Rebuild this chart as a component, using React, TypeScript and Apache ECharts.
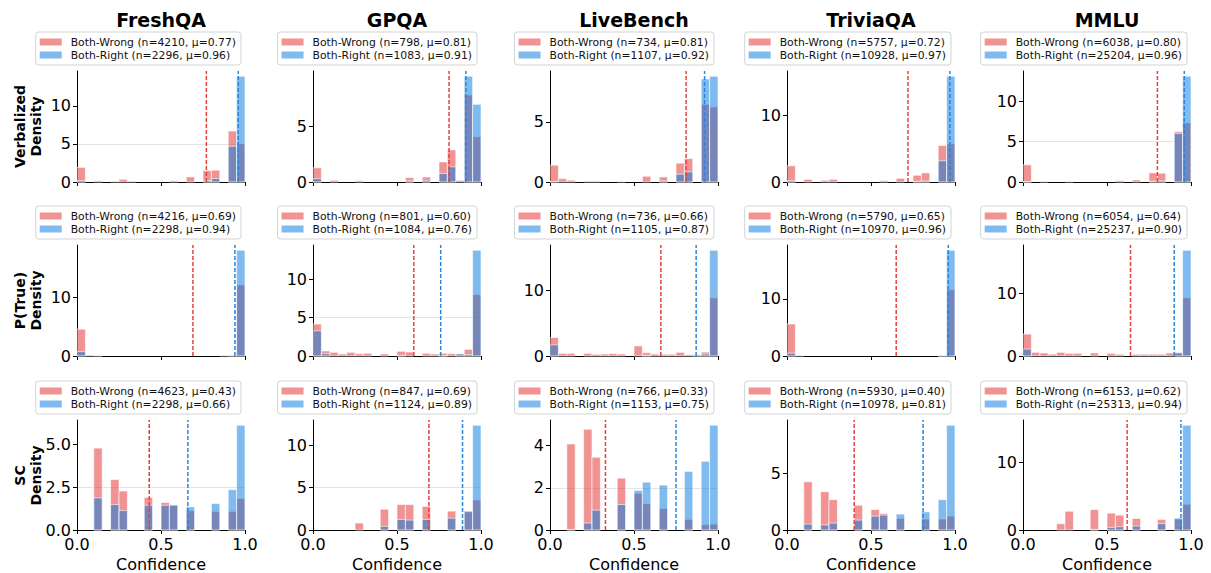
import React, { useEffect, useRef } from 'react';
import * as echarts from 'echarts';

const DATASETS = ['FreshQA', 'GPQA', 'LiveBench', 'TriviaQA', 'MMLU'];
const METHODS = ['Verbalized', 'P(True)', 'SC'];
const BIN_EDGES = [0, 0.05, 0.1, 0.15, 0.2, 0.25, 0.3, 0.35, 0.4, 0.45, 0.5, 0.55, 0.6, 0.65, 0.7, 0.75, 0.8, 0.85, 0.9, 0.95, 1.0];
const X_TICKS = [0, 0.5, 1.0];

// Verbalized densities (20 bins), per dataset
const VERB_WRONG = [
  [1.92, 0, 0.15, 0, 0.1, 0.36, 0.1, 0, 0, 0, 0, 0.15, 0, 0.67, 0, 1.5, 1.55, 0, 6.7, 5.0],
  [1.27, 0, 0.15, 0, 0, 0.12, 0, 0, 0, 0, 0, 0.4, 0, 0.45, 0, 1.8, 2.88, 0, 7.8, 4.06],
  [1.4, 0.28, 0.15, 0, 0, 0, 0, 0, 0.05, 0, 0, 0.48, 0, 0.42, 0, 1.57, 1.94, 0, 6.46, 6.24],
  [2.42, 0, 0.4, 0, 0.25, 0.4, 0, 0, 0, 0, 0, 0.2, 0, 0.55, 0, 1.0, 1.36, 0, 5.45, 5.7],
  [2.13, 0, 0.08, 0, 0, 0.08, 0, 0, 0, 0, 0, 0.17, 0, 0.25, 0, 1.13, 1.09, 0, 6.23, 7.32],
];
const VERB_RIGHT = [
  [0.2, 0, 0, 0, 0, 0, 0, 0, 0, 0, 0, 0, 0, 0, 0, 0.2, 0.45, 0, 4.7, 13.9],
  [0.3, 0, 0, 0, 0, 0, 0, 0, 0, 0, 0, 0.1, 0, 0.15, 0, 0.76, 1.36, 0.15, 9.48, 6.97],
  [0.05, 0, 0, 0, 0.08, 0.08, 0, 0, 0, 0, 0, 0, 0, 0.1, 0, 0.65, 0.84, 0, 8.57, 8.79],
  [0.2, 0, 0, 0, 0, 0, 0, 0, 0, 0, 0, 0, 0, 0, 0, 0.1, 0.15, 0, 3.18, 15.8],
  [0.05, 0, 0, 0, 0, 0, 0, 0, 0, 0, 0, 0, 0, 0, 0, 0.1, 0.15, 0, 6.02, 13.1],
];
// P(True) densities
const PTRUE_WRONG = [
  [4.57, 0.15, 0.05, 0, 0, 0, 0, 0, 0, 0, 0, 0, 0, 0, 0, 0, 0, 0.1, 0.15, 12.1],
  [4.17, 0.66, 0.48, 0.26, 0.48, 0.3, 0.35, 0, 0.26, 0, 0.61, 0.52, 0, 0.35, 0.26, 0.35, 0.3, 0.3, 0.87, 8.0],
  [2.82, 0.4, 0.4, 0, 0.4, 0.26, 0.3, 0.36, 0.3, 0, 1.54, 0.5, 0.3, 0.26, 0.26, 0.56, 0.2, 0.1, 0.6, 8.87],
  [5.6, 0.08, 0, 0, 0, 0, 0, 0, 0, 0, 0, 0, 0, 0, 0, 0, 0, 0, 0.15, 11.6],
  [3.48, 0.58, 0.48, 0.3, 0.58, 0.42, 0.42, 0, 0.48, 0, 0.42, 0.27, 0, 0.27, 0.27, 0.27, 0.27, 0.48, 0.58, 9.25],
];
const PTRUE_RIGHT = [
  [0.74, 0, 0, 0, 0, 0, 0, 0, 0, 0, 0, 0, 0, 0, 0, 0, 0, 0, 0.1, 18.0],
  [3.29, 0.3, 0, 0, 0, 0, 0, 0, 0, 0, 0.1, 0, 0, 0, 0, 0.05, 0, 0.26, 0.2, 13.8],
  [1.7, 0, 0, 0, 0, 0, 0, 0, 0, 0, 0, 0.1, 0, 0, 0, 0, 0, 0.2, 0.3, 16.15],
  [0.5, 0, 0, 0, 0, 0, 0, 0, 0, 0, 0, 0, 0, 0, 0, 0, 0, 0, 0.05, 18.5],
  [1.1, 0, 0, 0, 0, 0, 0, 0, 0, 0, 0, 0, 0, 0, 0, 0, 0, 0, 0.48, 16.8],
];
// SC densities
const SC_WRONG = [
  [0, 0, 4.77, 0, 2.94, 2.27, 0, 0, 1.9, 0, 1.6, 1.42, 0, 1.12, 0, 0, 1.08, 0, 1.08, 1.83],
  [0, 0, 0, 0, 0, 0.82, 0, 0, 2.46, 0, 3.0, 3.0, 0, 2.8, 0, 0, 2.23, 0, 2.15, 3.55],
  [0, 0, 4.08, 0, 4.78, 3.45, 0, 0, 2.46, 0, 1.74, 1.25, 0, 1.02, 0, 0, 0.5, 0, 0.25, 0.28],
  [0, 0, 4.24, 0, 3.37, 2.67, 0, 0, 2.18, 0, 1.8, 1.45, 0, 1.02, 0, 0, 0.96, 0, 0.96, 1.22],
  [0, 0, 0, 0, 0.93, 2.78, 0, 0, 3.02, 0, 2.49, 2.2, 0, 1.7, 0, 0, 1.56, 0, 1.6, 3.8],
];
const SC_RIGHT = [
  [0, 0, 1.87, 0, 1.48, 1.13, 0, 0, 1.44, 0, 1.44, 1.46, 0, 1.35, 0, 0, 1.54, 0, 2.35, 6.1],
  [0, 0, 0, 0, 0, 0, 0, 0, 0.43, 0, 1.25, 1.17, 0, 1.25, 0, 0, 1.4, 0, 2.23, 12.38],
  [0, 0, 0.03, 0, 0.33, 0.94, 0, 0, 1.21, 0, 1.88, 2.27, 0, 2.13, 0, 0, 2.78, 0, 3.26, 4.97],
  [0, 0, 0.52, 0, 0.44, 0.61, 0, 0, 0.87, 0, 1.22, 1.31, 0, 1.4, 0, 0, 1.6, 0, 2.67, 9.22],
  [0, 0, 0, 0, 0, 0, 0, 0, 0.1, 0, 0.39, 0.49, 0, 0.58, 0, 0, 0.93, 0, 1.76, 15.5],
];

const VERB_N_WRONG = [4210, 798, 734, 5757, 6038];
const VERB_MU_WRONG = [0.77, 0.81, 0.81, 0.72, 0.80];
const VERB_N_RIGHT = [2296, 1083, 1107, 10928, 25204];
const VERB_MU_RIGHT = [0.96, 0.91, 0.92, 0.97, 0.96];
const PTRUE_N_WRONG = [4216, 801, 736, 5790, 6054];
const PTRUE_MU_WRONG = [0.69, 0.60, 0.66, 0.65, 0.64];
const PTRUE_N_RIGHT = [2298, 1084, 1105, 10970, 25237];
const PTRUE_MU_RIGHT = [0.94, 0.76, 0.87, 0.96, 0.90];
const SC_N_WRONG = [4623, 847, 766, 5930, 6153];
const SC_MU_WRONG = [0.43, 0.69, 0.33, 0.40, 0.62];
const SC_N_RIGHT = [2298, 1124, 1153, 10978, 25313];
const SC_MU_RIGHT = [0.66, 0.89, 0.75, 0.81, 0.94];

const Y_INTERVALS = [
  [5, 5, 5, 10, 5],
  [10, 5, 10, 10, 10],
  [2.5, 5, 2, 5, 10],
];

const WRONG_ALL = [VERB_WRONG, PTRUE_WRONG, SC_WRONG];
const RIGHT_ALL = [VERB_RIGHT, PTRUE_RIGHT, SC_RIGHT];
const N_WRONG_ALL = [VERB_N_WRONG, PTRUE_N_WRONG, SC_N_WRONG];
const MU_WRONG_ALL = [VERB_MU_WRONG, PTRUE_MU_WRONG, SC_MU_WRONG];
const N_RIGHT_ALL = [VERB_N_RIGHT, PTRUE_N_RIGHT, SC_N_RIGHT];
const MU_RIGHT_ALL = [VERB_MU_RIGHT, PTRUE_MU_RIGHT, SC_MU_RIGHT];

const COL_LEFT = [77, 313, 550, 787, 1023];
const ROW_TOP = [71, 245, 420];
const PLOT_W = 168;
const PLOT_H = 111;
const FONT = 'DejaVu Sans';
const RED_FILL = 'rgba(228, 40, 40, 0.5)';
const BLUE_FILL = 'rgba(0, 120, 222, 0.5)';
const RED_LINE = '#e8413c';
const BLUE_LINE = '#2a86dc';

function buildOption() {
  const grid: any[] = [];
  const xAxis: any[] = [];
  const yAxis: any[] = [];
  const series: any[] = [];
  const legend: any[] = [];
  const title: any[] = [];
  const graphic: any[] = [];

  for (let r = 0; r < 3; r++) {
    graphic.push({
      type: 'text',
      x: 28,
      y: ROW_TOP[r] + PLOT_H / 2,
      rotation: Math.PI / 2,
      style: {
        text: METHODS[r] + '\nDensity',
        fontSize: 14,
        fontWeight: 'bold',
        fontFamily: FONT,
        fill: '#000',
        textAlign: 'center',
        textVerticalAlign: 'middle',
        lineHeight: 16,
      },
    });
    for (let c = 0; c < 5; c++) {
      const idx = r * 5 + c;
      const wrong = WRONG_ALL[r][c];
      const right = RIGHT_ALL[r][c];
      const maxV = Math.max(...wrong, ...right);
      const ymax = maxV * 1.05;
      const interval = Y_INTERVALS[r][c];
      const yTicks: number[] = [];
      for (let k = 0; k * interval <= ymax + 1e-9; k++) yTicks.push(Math.round(k * interval * 100) / 100);

      grid.push({ left: COL_LEFT[c], top: ROW_TOP[r], width: PLOT_W, height: PLOT_H });
      xAxis.push({
        gridIndex: idx,
        type: 'value',
        min: 0,
        max: 1,
        interval: 0.5,
        axisLine: { show: true, onZero: false, lineStyle: { color: '#000', width: 1 } },
        axisTick: { show: true, length: 4, lineStyle: { color: '#000', width: 1 }, customValues: X_TICKS },
        axisLabel: {
          show: r === 2,
          customValues: X_TICKS,
          fontSize: 16,
          lineHeight: 14,
          color: '#000',
          fontFamily: FONT,
          margin: 7,
          formatter: (v: number) => v.toFixed(1),
        },
        splitLine: { show: false },
        name: r === 2 ? 'Confidence' : '',
        nameLocation: 'middle',
        nameGap: 26,
        nameTextStyle: { fontSize: 16, color: '#000', fontFamily: FONT },
      });
      yAxis.push({
        gridIndex: idx,
        type: 'value',
        min: 0,
        max: ymax,
        interval: interval,
        axisLine: { show: true, lineStyle: { color: '#000', width: 1 } },
        axisTick: { show: true, length: 4, lineStyle: { color: '#000', width: 1 }, customValues: yTicks },
        axisLabel: {
          customValues: yTicks,
          fontSize: 16,
          lineHeight: 12,
          color: '#000',
          fontFamily: FONT,
          margin: 6,
          formatter: (v: number) => {
            const k = v / interval;
            if (Math.abs(k - Math.round(k)) > 1e-6) return '';
            return interval % 1 !== 0 ? v.toFixed(1) : String(Math.round(v));
          },
        },
        splitLine: { show: true, showMinLine: false, showMaxLine: false, lineStyle: { color: '#e4e4e4', width: 1 } },
      });

      const nameWrong = `Both-Wrong (n=${N_WRONG_ALL[r][c]}, μ=${MU_WRONG_ALL[r][c].toFixed(2)})`;
      const nameRight = `Both-Right (n=${N_RIGHT_ALL[r][c]}, μ=${MU_RIGHT_ALL[r][c].toFixed(2)})`;

      const makeHist = (name: string, vals: number[], fill: string, z: number) => ({
        type: 'custom',
        name,
        xAxisIndex: idx,
        yAxisIndex: idx,
        z,
        itemStyle: { color: fill },
        encode: { x: [0, 1], y: 2 },
        data: vals.map((v, i) => [BIN_EDGES[i], BIN_EDGES[i + 1], v]),
        renderItem: (params: any, api: any) => {
          const v = api.value(2);
          if (!v) return null;
          const p0 = api.coord([api.value(0), v]);
          const p1 = api.coord([api.value(1), 0]);
          return {
            type: 'rect',
            shape: { x: p0[0], y: p0[1], width: p1[0] - p0[0], height: p1[1] - p0[1] },
            style: { fill, stroke: '#ffffff', lineWidth: 0.6 },
          };
        },
      });
      series.push(makeHist(nameWrong, wrong, RED_FILL, 2));
      series.push(makeHist(nameRight, right, BLUE_FILL, 3));

      const makeMean = (mu: number, color: string, key: string) => ({
        type: 'line',
        name: key,
        xAxisIndex: idx,
        yAxisIndex: idx,
        z: 5,
        silent: true,
        symbol: 'none',
        data: [[mu, 0], [mu, ymax]],
        lineStyle: { color, width: 1.5, type: [4, 2] },
      });
      series.push(makeMean(MU_WRONG_ALL[r][c], RED_LINE, `mean-wrong-${idx}`));
      series.push(makeMean(MU_RIGHT_ALL[r][c], BLUE_LINE, `mean-right-${idx}`));

      legend.push({
        data: [
          { name: nameWrong, itemStyle: { color: RED_FILL } },
          { name: nameRight, itemStyle: { color: BLUE_FILL } },
        ],
        orient: 'vertical',
        right: 1211 - (COL_LEFT[c] + PLOT_W - 4),
        top: ROW_TOP[r] - 39,
        icon: 'rect',
        itemWidth: 22,
        itemHeight: 7,
        itemGap: 1,
        padding: [4, 5, 4, 4],
        borderColor: '#d3d3d3',
        borderWidth: 1,
        borderRadius: 3,
        backgroundColor: '#ffffff',
        selectedMode: false,
        textStyle: { fontSize: 10.8, color: '#111', fontFamily: FONT, lineHeight: 12, padding: [0, 0, 0, 4] },
      });

      if (r === 0) {
        title.push({
          text: DATASETS[c],
          left: COL_LEFT[c] + PLOT_W / 2,
          top: 10,
          padding: 0,
          textAlign: 'center',
          textStyle: { fontSize: 19, fontWeight: 'bold', color: '#000', fontFamily: FONT },
        });
      }
    }
  }

  return {
    animation: false,
    backgroundColor: '#ffffff',
    textStyle: { fontFamily: FONT },
    title,
    legend,
    grid,
    xAxis,
    yAxis,
    series,
    graphic,
  };
}

export default function App() {
  const ref = useRef<HTMLDivElement>(null);
  useEffect(() => {
    document.body.style.margin = '0';
    if (!ref.current) return;
    const chart = echarts.init(ref.current, null, { renderer: 'svg' });
    chart.setOption(buildOption() as any);
    return () => chart.dispose();
  }, []);
  return <div ref={ref} style={{ width: 1211, height: 573 }} />;
}
